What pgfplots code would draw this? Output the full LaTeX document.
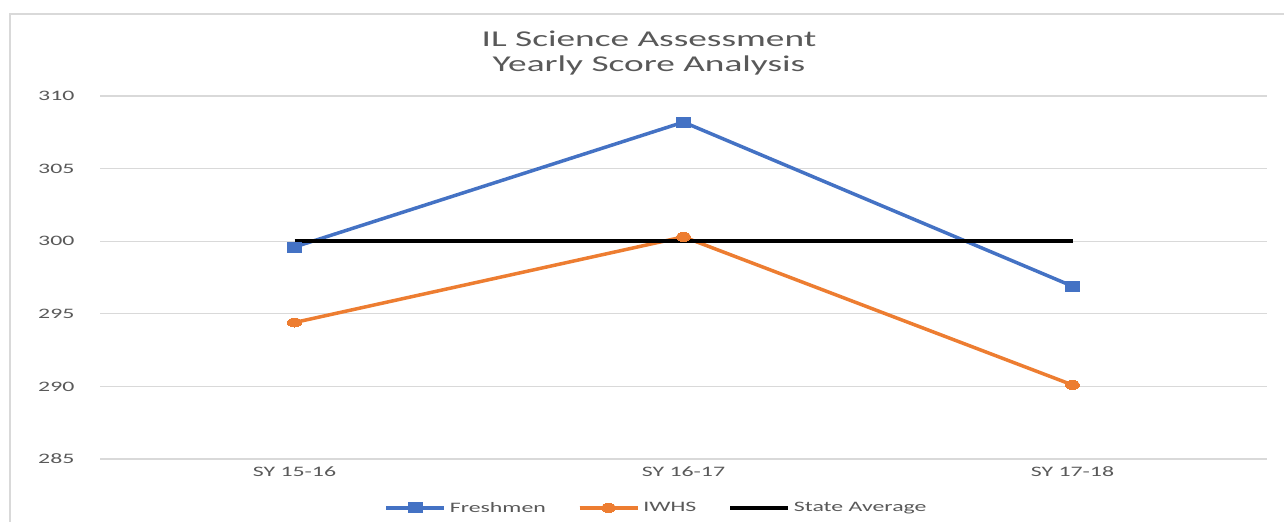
\documentclass[border=0pt]{standalone}
\usepackage{fontspec}
\setmainfont{Carlito}[FakeStretch=1.65]
\usepackage{pgfplots}
\pgfplotsset{compat=1.18}
\definecolor{cblue}{HTML}{4472C4}
\definecolor{corange}{HTML}{ED7D31}
\definecolor{cgrid}{HTML}{D9D9D9}
\definecolor{ctext}{HTML}{595959}
\begin{document}
\begin{tikzpicture}
\useasboundingbox (0,0) rectangle (1284bp,522bp);
\draw[cgrid, line width=1.5bp] (10bp,0) -- (10bp,508bp) -- (1290bp,508bp);
\begin{axis}[
  at={(100bp,63bp)}, anchor=south west,
  scale only axis, width=1167bp, height=363bp,
  xmin=-0.5, xmax=2.5, ymin=285, ymax=310,
  xtick={0,1,2}, xticklabels={SY 15-16, SY 16-17, SY 17-18},
  ytick={285,290,...,310},
  ymajorgrids, grid style={cgrid, line width=1.2bp},
  axis line style={draw=none},
  major tick length=0pt,
  /pgf/number format/assume math mode=true,
  tick label style={font=\fontsize{14.5}{16}\selectfont, text=ctext},
  yticklabel style={xshift=-22bp},
  xticklabel style={yshift=-4bp},
  title={IL Science Assessment\\Yearly Score Analysis},
  title style={at={(0.4704,1)}, anchor=south, align=center, yshift=11bp,
    font=\fontsize{22.7}{25.5}\selectfont, text=ctext},
  legend style={at={(0.4768,0)}, anchor=north, yshift=-39bp, draw=none,
    font=\fontsize{14.5}{16}\selectfont, text=ctext, column sep=0bp,
    /tikz/every even column/.append style={column sep=30bp},
    /tikz/every odd column/.append style={column sep=2bp}},
  legend columns=3,
  legend image code/.code={
    \draw[#1] (0bp,0bp) -- (58bp,0bp);
    \draw[#1, mark repeat=2, mark phase=2] plot coordinates {(0bp,0bp) (29bp,0bp) (58bp,0bp)};
  },
]
\addplot[cblue, line width=3.5bp, mark=square*, mark size=5bp, mark options={xscale=1.4, yscale=1, line width=0pt}]
  coordinates {(0,299.6) (1,308.2) (2,296.9)};
\addlegendentry{Freshmen}
\addplot[corange, line width=3.5bp, mark=*, mark size=5bp, mark options={xscale=1.4, yscale=0.9, line width=0pt}]
  coordinates {(0,294.4) (1,300.3) (2,290.1)};
\addlegendentry{IWHS}
\addplot[black, line width=3.5bp, mark=none]
  coordinates {(0,300) (1,300) (2,300)};
\addlegendentry{State Average}
\end{axis}
\end{tikzpicture}
\end{document}
